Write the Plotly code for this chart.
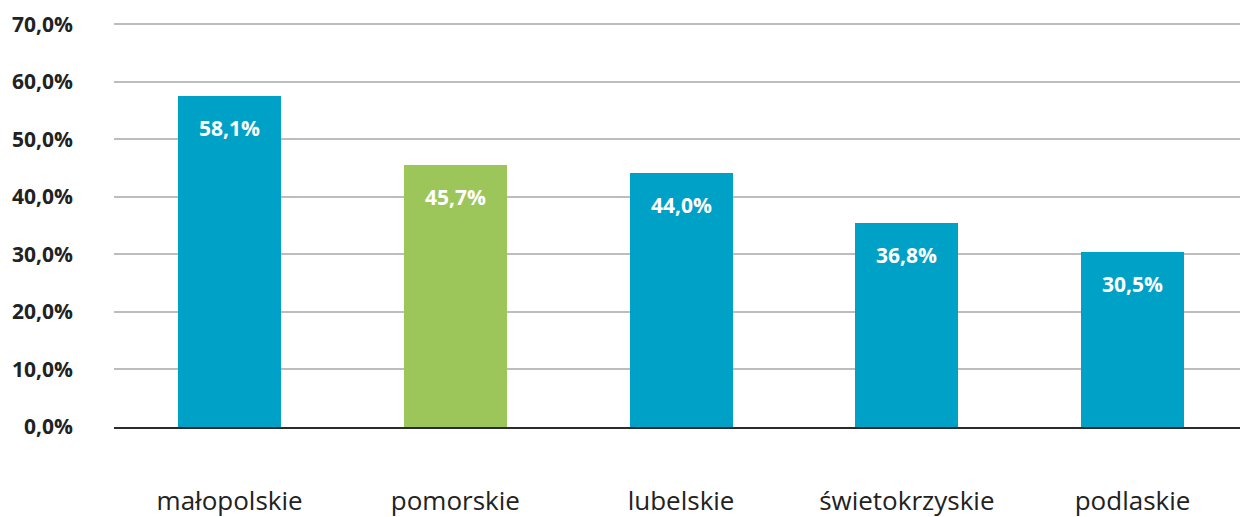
import plotly.graph_objects as go

categories = ["małopolskie", "pomorskie", "lubelskie", "świetokrzyskie", "podlaskie"]
values = [57.6, 45.5, 44.1, 35.4, 30.4]
labels = ["58,1%", "45,7%", "44,0%", "36,8%", "30,5%"]
colors = ["#00A1C7", "#9DC65A", "#00A1C7", "#00A1C7", "#00A1C7"]
tick_values = [0, 10, 20, 30, 40, 50, 60, 70]
tick_labels = ["0,0%", "10,0%", "20,0%", "30,0%", "40,0%", "50,0%", "60,0%", "70,0%"]

FONT = "Open Sans"

fig = go.Figure()
fig.add_trace(go.Bar(
    x=list(range(len(categories))),
    y=values,
    width=0.456,
    marker=dict(color=colors, line=dict(width=0)),
    hoverinfo="skip",
))

for i, (v, t) in enumerate(zip(values, labels)):
    fig.add_annotation(
        x=i, y=v, text=t, showarrow=False,
        yanchor="middle", yshift=-32,
        font=dict(family=FONT, size=21, color="white", weight="bold"),
    )

fig.update_layout(
    width=1240, height=517,
    margin=dict(l=114, r=0, t=23, b=90),
    paper_bgcolor="white", plot_bgcolor="white",
    showlegend=False,
    bargap=0,
)
fig.update_xaxes(
    range=[-0.512, 4.476],
    tickvals=list(range(len(categories))),
    ticktext=categories,
    tickfont=dict(family=FONT, size=26, color="#222222"),
    ticklabelstandoff=50,
    automargin=False,
    showgrid=False, zeroline=False,
    showline=True, linecolor="#2b2b2b", linewidth=2,
    ticks="",
)
fig.update_yaxes(
    range=[0, 70.2],
    tickvals=tick_values,
    ticktext=tick_labels,
    tickfont=dict(family=FONT, size=21, color="#222222", weight="bold"),
    ticklabelstandoff=40,
    automargin=False,
    showgrid=True, gridcolor="#BDBDBD", gridwidth=1.5,
    zeroline=False, showline=False, ticks="",
)

fig.write_html(
    "out.html",
    config={"displayModeBar": False},
    post_script="document.body.style.margin='0';document.body.style.overflow='hidden';",
)
